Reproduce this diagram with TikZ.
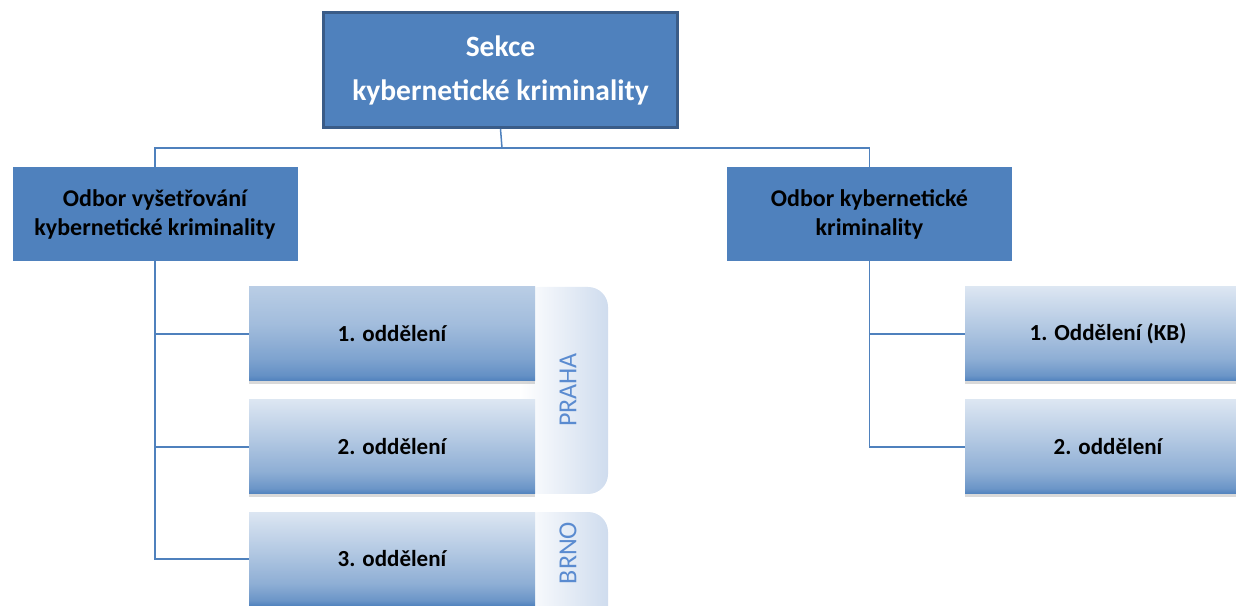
\documentclass[tikz,border=0pt]{standalone}
\usepackage{fontspec}
\setmainfont{Carlito}
\usetikzlibrary{shadows}
\definecolor{accent}{HTML}{4F81BD}
\definecolor{darkb}{HTML}{3A5C88}
\definecolor{lightb}{HTML}{DCE6F2}
\definecolor{midb}{HTML}{B9CDE5}
\definecolor{tabb}{HTML}{CFDCEE}
\definecolor{tabtext}{HTML}{5A8BD0}
\pgfdeclareverticalshading{childshade}{100bp}{
  color(0bp)=(accent); color(25bp)=(accent); color(28bp)=(accent!80!lightb);
  color(37bp)=(accent!55!lightb); color(55bp)=(accent!28!lightb);
  color(75bp)=(lightb); color(100bp)=(lightb)}
\pgfdeclareverticalshading{childshadeB}{100bp}{
  color(0bp)=(accent); color(25bp)=(accent); color(28bp)=(accent!80!midb);
  color(37bp)=(accent!55!midb); color(55bp)=(accent!22!midb);
  color(75bp)=(midb); color(100bp)=(midb)}
\tikzset{
  topbox/.style={rectangle, fill=accent, draw=darkb, line width=3pt,
    minimum width=354pt, minimum height=115pt, align=center, text=white,
    font=\fontsize{29.5}{44}\selectfont\bfseries},
  midbox/.style={rectangle, fill=accent, minimum width=285pt, minimum height=94pt,
    align=center, text=black, font=\fontsize{24}{29}\selectfont\bfseries},
  childbox/.style={rectangle, shading=childshade, minimum width=286pt, minimum height=94pt,
    align=center, text=black, font=\fontsize{23}{26}\selectfont\bfseries,
    drop shadow={shadow xshift=0pt, shadow yshift=-3pt, opacity=0.25, fill=black!60}},
  conn/.style={draw=accent, line width=1.5pt},
  tabbase/.style={rounded corners=20pt, fill=white!96!tabb},
  tab/.style={rounded corners=20pt, left color=white, right color=tabb},
  tablabel/.style={rotate=90, text=tabtext, font=\fontsize{26}{30}\selectfont}
}
\begin{document}
\begin{tikzpicture}[x=1pt,y=1pt]
\useasboundingbox (0,0) rectangle (1236,605);
\clip (0,0) rectangle (1236,605);
% tabs
\fill[tabbase] (470,318) rectangle (608,111);
\shade[tab] (520,318) rectangle (608,111);
\fill[tabbase] (470,93) rectangle (608,-35);
\shade[tab] (520,93) rectangle (608,-35);
\node[tablabel] (praha) at (568,215) {PRAHA};
\node[tablabel] (brno) at (568,52) {BRNO};
% nodes
\node[topbox] (top) at (500.5,535) {Sekce\\kybernetické kriminality};
\node[midbox] (L) at (155,391) {Odbor vyšetřování\\kybernetické kriminality};
\node[midbox] (R) at (869.5,391) {Odbor kybernetické\\kriminality};
\node[childbox, shading=childshadeB] (c1) at (392,271) {1. oddělení};
\node[childbox] (c2) at (392,158) {2. oddělení};
\node[childbox] (c3) at (392,46) {3. oddělení};
\node[childbox] (r1) at (1108,271) {1. Oddělení (KB)};
\node[childbox] (r2) at (1108,158) {2. oddělení};
% connectors
\coordinate (bus) at (502,457);
\draw[conn] (top.south) -- (bus);
\draw[conn] (bus) -| (L.north);
\draw[conn] (bus) -| (R.north);
\draw[conn] (L.south) |- (c1.west);
\draw[conn] (L.south) |- (c2.west);
\draw[conn] (L.south) |- (c3.west);
\draw[conn] (R.south) |- (r1.west);
\draw[conn] (R.south) |- (r2.west);
\end{tikzpicture}
\end{document}
